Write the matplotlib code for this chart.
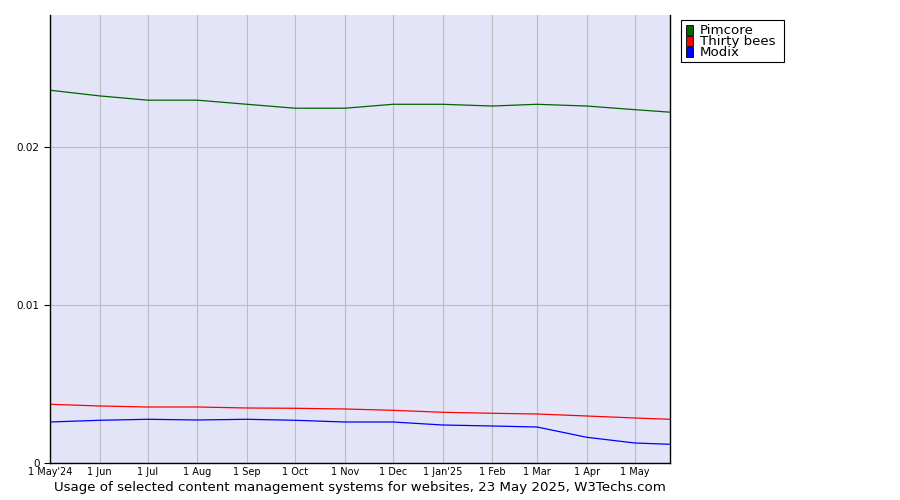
import matplotlib
matplotlib.use("Agg")
import matplotlib.pyplot as plt
from matplotlib.patches import Rectangle
import datetime as dt

dates = ["2024-05-01", "2024-06-01", "2024-07-01", "2024-08-01", "2024-09-01", "2024-10-01",
         "2024-11-01", "2024-12-01", "2025-01-01", "2025-02-01", "2025-03-01", "2025-04-01",
         "2025-05-01", "2025-05-23"]
pimcore = [0.02359, 0.02323, 0.02296, 0.02296, 0.02270, 0.02245, 0.02245, 0.02270, 0.02270,
           0.02259, 0.02270, 0.02259, 0.02236, 0.02220]
thirty_bees = [0.003715, 0.003608, 0.003544, 0.003544, 0.003481, 0.003462, 0.003418, 0.003335,
               0.003209, 0.003146, 0.003101, 0.002975, 0.002848, 0.002766]
modix = [0.002595, 0.002703, 0.002766, 0.002722, 0.002766, 0.002703, 0.002595, 0.002595,
         0.002405, 0.002342, 0.002278, 0.001627, 0.001266, 0.001184]
series_names = ["Pimcore", "Thirty bees", "Modix"]
series_colors = ["#006400", "#ff0000", "#0000ff"]
tick_dates = ["2024-05-01", "2024-06-01", "2024-07-01", "2024-08-01", "2024-09-01", "2024-10-01",
              "2024-11-01", "2024-12-01", "2025-01-01", "2025-02-01", "2025-03-01", "2025-04-01",
              "2025-05-01"]
tick_labels = ["1 May'24", "1 Jun", "1 Jul", "1 Aug", "1 Sep", "1 Oct", "1 Nov", "1 Dec",
               "1 Jan'25", "1 Feb", "1 Mar", "1 Apr", "1 May"]
y_ticks = [0, 0.01, 0.02]
y_labels = ["0", "0.01", "0.02"]
title = "Usage of selected content management systems for websites, 23 May 2025, W3Techs.com"

x = [dt.datetime.strptime(d, "%Y-%m-%d") for d in dates]
xt = [dt.datetime.strptime(d, "%Y-%m-%d") for d in tick_dates]

W, H = 900, 500
fig = plt.figure(figsize=(9, 5), dpi=100)
ax = fig.add_axes([50/W, 37/H, 620/W, 448/H])
ax.set_facecolor("#e4e4f8")
for vals, name, c in zip([pimcore, thirty_bees, modix], series_names, series_colors):
    ax.plot(x, vals, color=c, lw=0.9, label=name)

ax.set_xlim(x[0], x[-1])
ax.set_ylim(0, 0.02835)
ax.set_xticks(xt)
ax.set_xticklabels(tick_labels, fontsize=7)
ax.set_yticks(y_ticks)
ax.set_yticklabels(y_labels, fontsize=7.5)
ax.tick_params(axis="x", length=0, pad=3)
ax.tick_params(axis="y", length=4, width=0.8)
ax.grid(True, color="#bcbcbc", lw=0.8)
ax.set_axisbelow(True)
ax.spines["top"].set_visible(False)
for s in ["left", "right", "bottom"]:
    ax.spines[s].set_linewidth(1.0)

fig.text(360/W, 1 - 488/H, title, ha="center", va="center", fontsize=9.6)

# legend drawn manually to match tight layout
fig.patches.append(Rectangle((681/W, 1 - 62/H), 103/W, 42/H, transform=fig.transFigure,
                             facecolor="white", edgecolor="black", lw=0.8))
for i, (n, c) in enumerate(zip(series_names, series_colors)):
    yc = 30 + 11 * i
    fig.patches.append(Rectangle((686/W, 1 - (yc + 4.5)/H), 7/W, 9/H, transform=fig.transFigure,
                                 facecolor=c, edgecolor="black", lw=0.6))
    fig.text(700/W, 1 - yc/H, n, ha="left", va="center", fontsize=9.6)

fig.savefig("out.png", dpi=100)
